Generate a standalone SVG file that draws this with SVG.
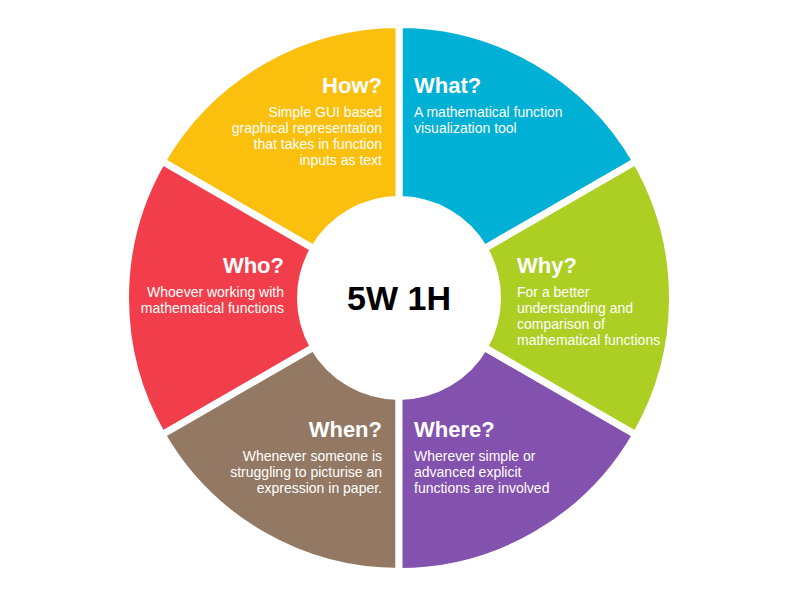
<svg xmlns="http://www.w3.org/2000/svg" width="799" height="600" viewBox="0 0 799 600">
  <style>
    .seg { stroke: #ffffff; stroke-width: 7; stroke-linejoin: miter; }
    .title { font-family: "Liberation Sans", Arial, sans-serif; font-weight: bold; font-size: 22px; fill: #ffffff; }
    .body { font-family: "Liberation Sans", Arial, sans-serif; font-size: 14px; fill: #ffffff; }
    .left { text-anchor: end; }
    .hub { font-family: "Liberation Sans", Arial, sans-serif; font-weight: bold; font-size: 34px; fill: #000000; text-anchor: middle; }
  </style>
  <rect width="799" height="600" fill="#ffffff"/>

  <!-- ring of six annular sectors around (399,298) -->
  <g id="what">
    <path class="seg" fill="#00B0D5" d="M 635.86 161.25 A 273.5 273.5 0 0 0 399 24.5 L 399 199.5 A 98.5 98.5 0 0 1 484.30 248.75 Z"/>
    <text class="title" x="414" y="93">What?</text>
    <text class="body" x="414" y="117">A mathematical function</text>
    <text class="body" x="414" y="133">visualization tool</text>
  </g>

  <g id="how">
    <path class="seg" fill="#FBC00D" d="M 399 24.5 A 273.5 273.5 0 0 0 162.14 161.25 L 313.70 248.75 A 98.5 98.5 0 0 1 399 199.5 Z"/>
    <text class="title left" x="382" y="93">How?</text>
    <text class="body left" x="382" y="117">Simple GUI based</text>
    <text class="body left" x="382" y="133">graphical representation</text>
    <text class="body left" x="382" y="149">that takes in function</text>
    <text class="body left" x="382" y="165">inputs as text</text>
  </g>

  <g id="who">
    <path class="seg" fill="#F23E4A" d="M 162.14 161.25 A 273.5 273.5 0 0 0 162.14 434.75 L 313.70 347.25 A 98.5 98.5 0 0 1 313.70 248.75 Z"/>
    <text class="title left" x="284" y="273">Who?</text>
    <text class="body left" x="284" y="297">Whoever working with</text>
    <text class="body left" x="284" y="313">mathematical functions</text>
  </g>

  <g id="when">
    <path class="seg" fill="#937964" d="M 162.14 434.75 A 273.5 273.5 0 0 0 399 571.5 L 399 396.5 A 98.5 98.5 0 0 1 313.70 347.25 Z"/>
    <text class="title left" x="382" y="437">When?</text>
    <text class="body left" x="382" y="461">Whenever someone is</text>
    <text class="body left" x="382" y="477">struggling to picturise an</text>
    <text class="body left" x="382" y="493">expression in paper.</text>
  </g>

  <g id="where">
    <path class="seg" fill="#8351AE" d="M 399 571.5 A 273.5 273.5 0 0 0 635.86 434.75 L 484.30 347.25 A 98.5 98.5 0 0 1 399 396.5 Z"/>
    <text class="title" x="414" y="437">Where?</text>
    <text class="body" x="414" y="461">Wherever simple or</text>
    <text class="body" x="414" y="477">advanced explicit</text>
    <text class="body" x="414" y="493">functions are involved</text>
  </g>

  <g id="why">
    <path class="seg" fill="#ADCE22" d="M 635.86 434.75 A 273.5 273.5 0 0 0 635.86 161.25 L 484.30 248.75 A 98.5 98.5 0 0 1 484.30 347.25 Z"/>
    <text class="title" x="517" y="273">Why?</text>
    <text class="body" x="517" y="297">For a better</text>
    <text class="body" x="517" y="313">understanding and</text>
    <text class="body" x="517" y="329">comparison of</text>
    <text class="body" x="517" y="345">mathematical functions</text>
  </g>

  <g id="hub">
    <text class="hub" x="399" y="310">5W 1H</text>
  </g>

  <g id="connectors"></g>
</svg>
